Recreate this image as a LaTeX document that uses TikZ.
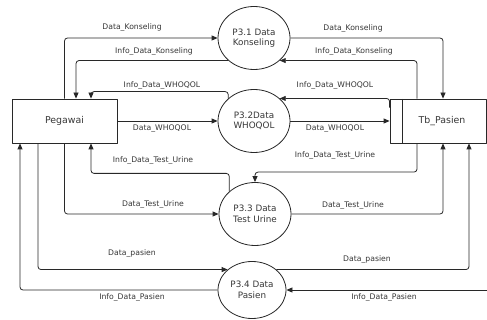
\documentclass[tikz,border=0pt]{standalone}
\usepackage{fontspec}
\setmainfont{DejaVu Sans}
\usetikzlibrary{arrows.meta,calc,shapes.geometric,positioning}
\definecolor{fg}{RGB}{40,40,40}
\definecolor{tx}{RGB}{55,55,55}
\definecolor{bg}{RGB}{255,255,255}
\tikzset{
  every picture/.style={fg, line width=0.8pt, line join=round,
    >={Triangle[length=6pt,width=5pt]}},
  % Knoten
  entity/.style={draw, rectangle, inner sep=0pt, minimum width=105pt, minimum height=44pt,
    text=tx, font=\fontsize{9.4}{11}\selectfont},
  store/.style={entity, minimum width=96pt,
    path picture={\draw ($(path picture bounding box.north west)+(12pt,0)$)
      -- ($(path picture bounding box.south west)+(12pt,0)$);}},
  proc/.style={draw, ellipse, inner sep=0pt, minimum width=72pt, minimum height=63pt,
    align=center, text=tx, font=\fontsize{8.8}{10.6}\selectfont},
  % Datenfluesse
  flow/.style={->, rounded corners=3pt},
  lbl/.style={text=tx, font=\fontsize{7.7}{9}\selectfont, inner sep=1pt},
}
\begin{document}
\begin{tikzpicture}[x=1pt, y=-1pt]
  \useasboundingbox[fill=bg] (0,0) rectangle (487,320);
  % Externe Einheit und Datenspeicher
  \node[entity] (peg) at (64.5,121) {Pegawai};
  \node[store] (tb) at (438,121) {\hspace*{8pt}Tb\_Pasien};
  % Prozesse
  \node[proc] (p31) at (254,38) {P3.1 Data\\Konseling};
  \node[proc] (p32) at (254,121) {P3.2Data\\WHOQOL};
  \node[proc] (p33) at (255,214) {P3.3 Data\\Test Urine};
  \node[proc, minimum width=68pt, minimum height=57pt] (p34) at (252,290) {P3.4 Data\\Pasien};
  \coordinate (rand) at (487,290);
  % P3.1
  \draw[flow] (peg.north) |- (p31.west);
  \draw[flow] (p31.south west) -| ([xshift=11.5pt]peg.north);
  \draw[flow] (p31.east) -| ([xshift=5pt]tb.north);
  \draw[flow] ([xshift=-21pt]tb.north) |- (p31.south east);
  % P3.2
  \draw[flow] (p32.north west) |- ([xshift=26.5pt,yshift=7pt]peg.north) -- ([xshift=26.5pt]peg.north);
  \draw[flow] (peg.east) -- (p32.west);
  \draw[flow] ([yshift=-9pt]tb.north west) |- (p32.north east);
  \draw[flow] (p32.east) -- (tb.west);
  % P3.3
  \draw[flow] (p33.north west) |- ([xshift=26.5pt,yshift=-30pt]peg.south) -- ([xshift=26.5pt]peg.south);
  \draw[flow] (peg.south) |- (p33.west);
  \draw[flow] ([xshift=-21pt]tb.south) |- ([yshift=10pt]p33.north) -- (p33.north);
  \draw[flow] (p33.east) -| ([xshift=5pt]tb.south);
  % P3.4
  \draw[flow] ([xshift=-26.5pt]peg.south) |- (p34.north west);
  \draw[flow] (p34.west) -| ([xshift=-44.5pt]peg.south);
  \draw[flow] (p34.north east) -| ([xshift=31pt]tb.south);
  \draw[flow] (rand) -- (p34.east);
  % Beschriftung links
  \node[lbl] (dkL) at (132,27) {Data\_Konseling};
  \node[lbl] (idkL) at (154,51) {Info\_Data\_Konseling};
  \node[lbl] (iwL) at (162,85) {Info\_Data\_WHOQOL};
  \node[lbl] (dwL) at (162,129) {Data\_WHOQOL};
  \node[lbl] (ituL) at (153,160) {Info\_Data\_Test\_Urine};
  \node[lbl] (dtuL) at (153,204) {Data\_Test\_Urine};
  \node[lbl] (dpL) at (132,253) {Data\_pasien};
  \node[lbl] (idpL) at (132,297) {Info\_Data\_Pasien};
  % Beschriftung rechts
  \node[lbl] (dkR) at (353,28) {Data\_Konseling};
  \node[lbl] (idkR) at (354,51) {Info\_Data\_Konseling};
  \node[lbl] (iwR) at (335,85) {Info\_Data\_WHOQOL};
  \node[lbl] (dwR) at (335,129) {Data\_WHOQOL};
  \node[lbl] (ituR) at (335,155) {Info\_Data\_Test\_Urine};
  \node[lbl] (dtuR) at (353,205) {Data\_Test\_Urine};
  \node[lbl] (dpR) at (367,259) {Data\_pasien};
  \node[lbl] (idpR) at (384,297) {Info\_Data\_Pasien};
\end{tikzpicture}
\end{document}
